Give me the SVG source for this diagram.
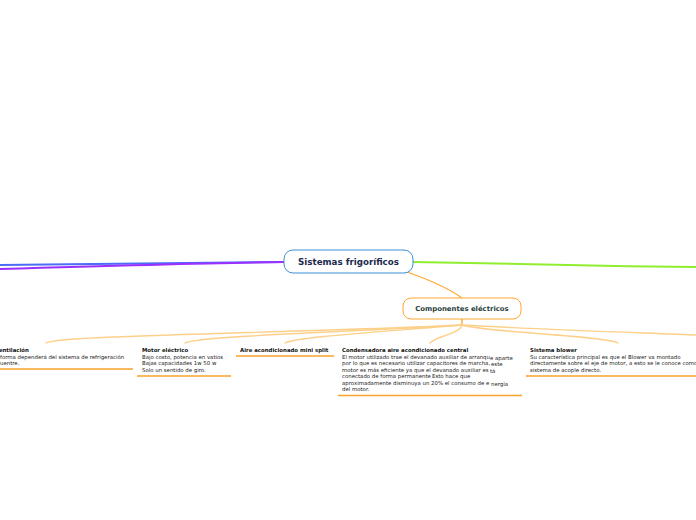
<svg xmlns="http://www.w3.org/2000/svg" width="696" height="520" viewBox="0 0 696 520">
<style>
.t{font-family:"DejaVu Sans",Verdana,sans-serif;font-size:5.4px;fill:#222}
.b{font-family:"DejaVu Sans",Verdana,sans-serif;font-size:5.4px;font-weight:bold;fill:#111}
.ul{stroke:#f7a22a;stroke-width:1.3;fill:none}
.cv{stroke:#fdd08a;stroke-width:1.4;fill:none;stroke-linecap:round}
</style>
<rect width="696" height="520" fill="#fff"/>
<g id="connectors">
<path d="M0,265 C100,264 200,262 284,262" stroke="#4a6cf7" stroke-width="2" fill="none"/>
<path d="M0,269 C100,266 200,263 284,262" stroke="#9b30ff" stroke-width="2" fill="none"/>
<path d="M413,262 C500,264 600,266 696,267" stroke="#90ee30" stroke-width="2" fill="none"/>
<path d="M407,272 C430,280 448,288 462,298" stroke="#ffa630" stroke-width="1.2" fill="none"/>
<path d="M462,319 L462,325" stroke="#ffa630" stroke-width="1.4" fill="none"/>
<path class="cv" d="M46,343 C60,335 300,333 462,325"/>
<path class="cv" d="M185,343 C200,336 350,332 462,325"/>
<path class="cv" d="M285,343 C295,337 380,332 462,325"/>
<path class="cv" d="M430,343 C436,336 460,334 462,325"/>
<path class="cv" d="M618,343 C610,336 480,332 462,325"/>
<path class="cv" d="M462,325 C550,330 650,333 696,335"/>
</g>
<g id="root">
<rect x="284" y="250" width="129" height="23" rx="9" fill="#fff" stroke="#3b8fd6" stroke-width="1"/>
<text x="348.5" y="265" text-anchor="middle" font-family="DejaVu Sans,Verdana,sans-serif" font-size="8.7" font-weight="bold" fill="#1c2a4e">Sistemas frigoríficos</text>
</g>
<g id="componentes">
<rect x="403" y="298" width="118" height="21" rx="8" fill="#fff" stroke="#ffa630" stroke-width="1"/>
<text x="462" y="311" text-anchor="middle" font-family="DejaVu Sans,Verdana,sans-serif" font-size="6.9" font-weight="bold" fill="#1f4038">Componentes eléctricos</text>
</g>
<g id="ventilacion">
<text class="b" x="-5" y="352">Ventilación</text>
<text class="t" x="0" y="358.5">forma dependerá del sistema de  refrigeración</text>
<text class="t" x="0" y="365">uentre.</text>
<line class="ul" x1="0" y1="369" x2="133" y2="369"/>
</g>
<g id="motor">
<text class="b" x="142" y="352">Motor eléctrico</text>
<text class="t" x="142" y="358.5">Bajo costo, potencia en vatios</text>
<text class="t" x="142" y="365">Bajas capacidades  1w 50 w</text>
<text class="t" x="142" y="371.5">Solo un sentido de giro.</text>
<line class="ul" x1="137" y1="376" x2="231" y2="376"/>
</g>
<g id="minisplit">
<text class="b" x="240" y="352">Aire acondicionado mini split</text>
<line class="ul" x1="236" y1="356" x2="334" y2="356"/>
</g>
<g id="condensadora">
<text class="b" x="342" y="352">Condensadora aire acondicionado central</text>
<text class="t" x="342" y="358.5">El motor utilizado trae el devanado auxiliar de arranqu</text>
<text class="t" x="490" y="359.5">e aparte</text>
<text class="t" x="342" y="365">por lo que es necesario utilizar capacitores de marcha,</text>
<text class="t" x="491" y="366"> este</text>
<text class="t" x="342" y="371.5">motor es más eficiente ya que el devanado auxiliar es</text>
<text class="t" x="490" y="373">tá</text>
<text class="t" x="342" y="378">conectado de forma permanente</text>
<text class="t" x="432" y="378">Esto hace que</text>
<text class="t" x="342" y="384.5">aproximadamente disminuya un 20% el consumo de e</text>
<text class="t" x="491" y="385.5">nergía</text>
<text class="t" x="342" y="391">del motor.</text>
<line class="ul" x1="338" y1="395.5" x2="522" y2="395.5"/>
</g>
<g id="blower">
<text class="b" x="530" y="352">Sistema blower</text>
<text class="t" x="530" y="358.5">Su característica principal es que el Blower va montado</text>
<text class="t" x="530" y="365">directamente sobre el eje de motor, a esto se le conoce como</text>
<text class="t" x="530" y="371.5">sistema de acople directo.</text>
<line class="ul" x1="526" y1="376" x2="696" y2="376"/>
</g>
</svg>
